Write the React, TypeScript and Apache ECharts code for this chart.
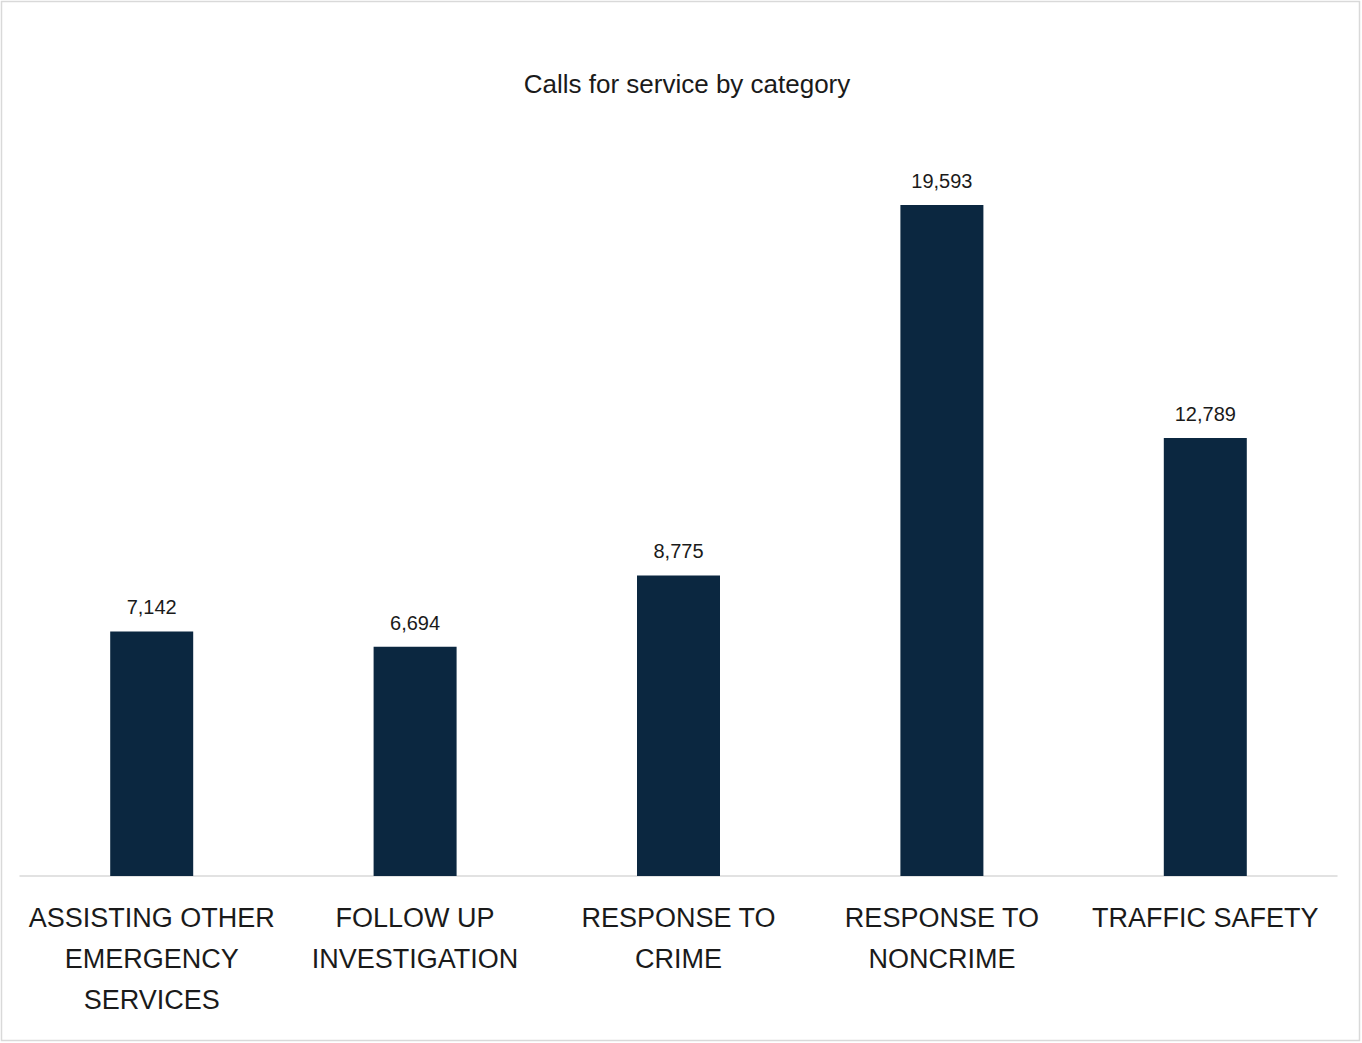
import React, { useEffect, useRef } from "react";
import * as echarts from "echarts";

const categories = [
  "ASSISTING OTHER\nEMERGENCY\nSERVICES",
  "FOLLOW UP\nINVESTIGATION",
  "RESPONSE TO\nCRIME",
  "RESPONSE TO\nNONCRIME",
  "TRAFFIC SAFETY",
];
const values = [7142, 6694, 8775, 19593, 12789];
const titleText = "Calls for service by category";

export default function App() {
  const ref = useRef<HTMLDivElement>(null);
  useEffect(() => {
    if (!ref.current) return;
    const chart = echarts.init(ref.current, undefined, { renderer: "svg" });
    const font = "'Liberation Sans', Arial, sans-serif";
    chart.setOption({
      animation: false,
      backgroundColor: "#ffffff",
      graphic: [
        {
          type: "rect",
          shape: { x: 1.5, y: 1.5, width: 1358, height: 1039 },
          style: { fill: "none", stroke: "#d9d9d9", lineWidth: 1.5 },
          silent: true,
        },
        {
          type: "text",
          x: 687,
          y: 84,
          silent: true,
          style: {
            text: titleText,
            fontFamily: font,
            fontSize: 26,
            fill: "#1a1a1a",
            textAlign: "center",
            textVerticalAlign: "middle",
          },
        },
      ],
      grid: { left: 20, right: 25, top: 191, bottom: 167, containLabel: false },
      xAxis: {
        type: "category",
        data: categories,
        axisLine: { show: true, lineStyle: { color: "#d9d9d9", width: 1.5 } },
        axisTick: { show: false },
        axisLabel: {
          interval: 0,
          margin: 21,
          fontFamily: font,
          fontSize: 27,
          lineHeight: 41,
          color: "#1a1a1a",
        },
      },
      yAxis: {
        type: "value",
        min: 0,
        max: 20000,
        show: false,
        splitLine: { show: false },
      },
      series: [
        {
          type: "bar",
          data: values,
          barWidth: 83,
          itemStyle: { color: "#0b2740" },
          label: {
            show: true,
            position: "top",
            distance: 14,
            fontFamily: font,
            fontSize: 20,
            color: "#1a1a1a",
            formatter: (p: any) => Number(p.value).toLocaleString("en-US"),
          },
        },
      ],
    });
    return () => chart.dispose();
  }, []);
  return (
    <div
      ref={ref}
      style={{ position: "absolute", left: 0, top: 0, width: 1362, height: 1043 }}
    />
  );
}
